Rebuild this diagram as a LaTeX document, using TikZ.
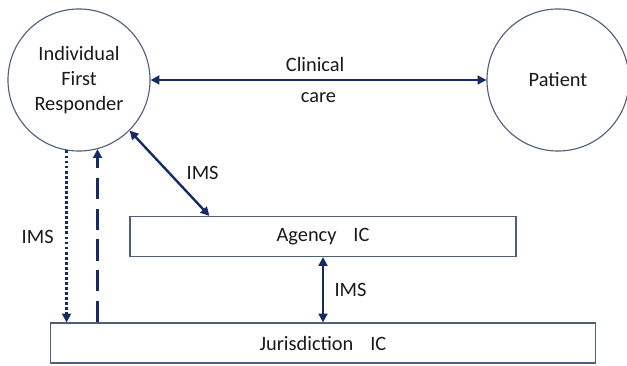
\documentclass[tikz,border=0pt]{standalone}
\usepackage{fontspec}
\setmainfont{Carlito}
\usetikzlibrary{arrows.meta,positioning}
\definecolor{navy}{RGB}{22,42,100}
\definecolor{rim}{RGB}{80,95,120}
\definecolor{ink}{RGB}{25,25,25}
\tikzset{
  >={Triangle[length=2.2mm,width=2.2mm]},
  actor/.style={circle,draw=rim,thick,minimum size=3.55cm,align=center,
    font=\fontsize{14.5}{17.5}\selectfont,text=ink},
  level/.style={draw=rim,thick,minimum height=#1,align=center,
    font=\fontsize{14.5}{17.5}\selectfont,text=ink},
  level/.default=1cm,
  link/.style={line width=1.7pt,draw=navy},
  tag/.style={font=\fontsize{14.5}{17.5}\selectfont,text=ink},
}
\begin{document}
\begin{tikzpicture}[x=0.025cm,y=-0.025cm]
    \useasboundingbox (0,0) rectangle (627,366);
    \node[actor] (ifr) at (79,80) {Individual\\First\\Responder};
    \node[actor] (pat) at (558,80) {Patient};
    \node[level,minimum width=9.65cm] (agency) at (323,236.5) {Agency\hspace{0.6em} IC};
    \node[level,minimum width=13.6cm] (jur) at (323,343) {Jurisdiction\hspace{0.6em} IC};
    % clinical care
    \draw[link,<->] (ifr) -- (pat)
      node[tag,pos=0.49,above=2pt] {Clinical}
      node[tag,pos=0.5,below=5pt] {care};
    % IMS links
    \draw[link,<->] (ifr.-45) -- node[tag,pos=0.5,right=8pt] {IMS} ([xshift=2cm]agency.north west);
    \draw[link,<->] (agency) -- node[tag,right=4pt] {IMS} (jur);
    \draw[link,->,dash pattern=on 2pt off 1.6pt] (ifr.260) -- node[tag,left=5pt] {IMS} (ifr.260 |- jur.north);
    \draw[link,->,dash pattern=on 15pt off 7pt] (ifr.285 |- jur.north) -- (ifr.285);
  \end{tikzpicture}
\end{document}
